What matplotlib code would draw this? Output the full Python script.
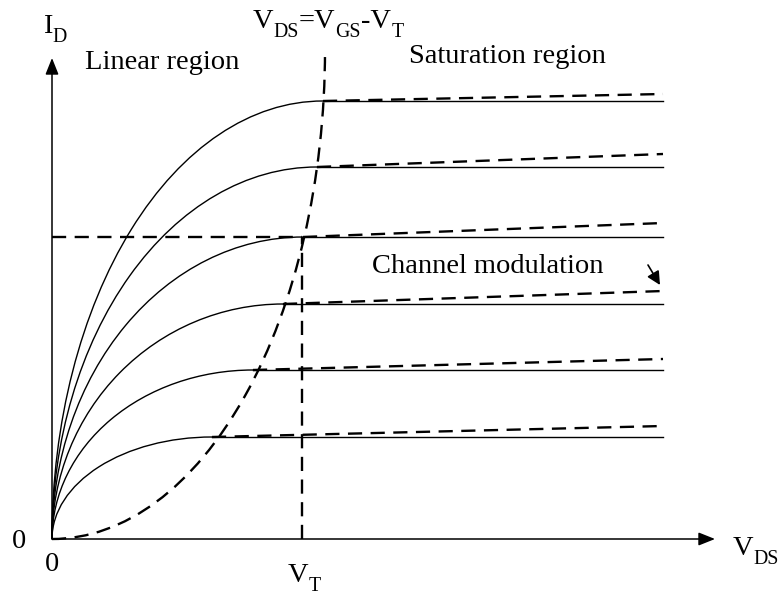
import matplotlib.pyplot as plt
from matplotlib.patches import Arc

plt.rcParams['font.family'] = ['Liberation Serif', 'DejaVu Serif']

# values (arbitrary units, V_T = 250)
v_pinch = [160, 201, 231, 251, 265, 271]     # V_DS where each curve saturates
i_sat = [102, 169, 235, 302, 372, 438]       # flat saturation current
i_sat_clm = [113, 180, 248, 316, 385, 445]   # with channel modulation at v_max
v_max = 611
v_t = 250
i_ref = 302
locus_v = 273      # V_DS = V_GS - V_T boundary (quarter ellipse)
locus_i = 489
x_end = 663        # axis arrow tips
y_end = 481

fig = plt.figure(figsize=(7.8, 5.95), dpi=100, facecolor='white')
ax = fig.add_axes([0, 0, 1, 1])
ax.set_xlim(-52, 728)
ax.set_ylim(-56, 539)
ax.axis('off')

dash = (0, (6, 3.6))

# output curves
for vp, isat, iend in zip(v_pinch, i_sat, i_sat_clm):
    ax.add_patch(Arc((vp, 0), 2 * vp, 2 * isat, theta1=90, theta2=180,
                     lw=1.0, color='black'))
    ax.plot([vp, v_max], [isat, isat], color='black', lw=1.0)
    ax.plot([vp, v_max], [isat, iend], color='black', lw=1.7, linestyle=dash)

# boundary between linear and saturation region
ax.add_patch(Arc((0, locus_i), 2 * locus_v, 2 * locus_i, theta1=270, theta2=360,
                 lw=1.7, color='black', linestyle=dash))
ax.plot([v_t, v_t], [0, i_ref], color='black', lw=1.7, linestyle=dash)
ax.plot([0, v_t], [i_ref, i_ref], color='black', lw=1.7, linestyle=dash)

# axes with arrows
arrow = dict(arrowstyle='-|>,head_length=10,head_width=4', mutation_scale=1,
             lw=1.1, color='black', shrinkA=0, shrinkB=0)
ax.annotate('', xy=(0, y_end), xytext=(0, 0), arrowprops=arrow)
ax.annotate('', xy=(x_end, 0), xytext=(0, 0), arrowprops=arrow)

# channel modulation pointer
ax.annotate('', xy=(608, 254), xytext=(596, 274),
            arrowprops=dict(arrowstyle='-|>,head_length=8,head_width=4',
                            mutation_scale=1, lw=1.2, color='black',
                            shrinkA=0, shrinkB=0))

fs = 20.5
renderer = fig.canvas.get_renderer()


def sub_label(x, y, parts):
    # write text piece by piece, subscripts smaller and lower (1 unit = 1 px)
    for s, is_sub in parts:
        t = ax.text(x, y - (9 if is_sub else 0), s,
                    fontsize=fs * 0.7 if is_sub else fs,
                    ha='left', va='baseline')
        x += t.get_window_extent(renderer=renderer).width


sub_label(-9, 506, [('I', False), ('D', True)])
sub_label(201, 511, [('V', False), ('DS', True), ('=V', False), ('GS', True),
                     ('-V', False), ('T', True)])
sub_label(236, -43, [('V', False), ('T', True)])
sub_label(681, -16, [('V', False), ('DS', True)])

ax.text(33, 470, 'Linear region', fontsize=fs, ha='left', va='baseline')
ax.text(357, 476, 'Saturation region', fontsize=fs, ha='left', va='baseline')
ax.text(320, 266, 'Channel modulation', fontsize=fs, ha='left', va='baseline')
ax.text(-40, -9, '0', fontsize=fs, ha='left', va='baseline')
ax.text(-7, -32, '0', fontsize=fs, ha='left', va='baseline')

plt.savefig('out.png', dpi=100, facecolor='white')
